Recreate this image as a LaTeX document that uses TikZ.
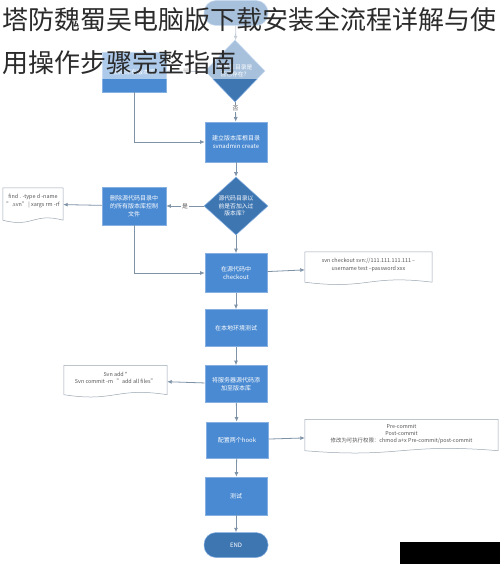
\documentclass[tikz,border=0pt]{standalone}
\usepackage{fontspec}
\setmainfont{Noto Sans CJK SC}
\usetikzlibrary{shapes.geometric,arrows.meta,calc}
\definecolor{boxblue}{HTML}{4A8AD2}
\definecolor{boxedge}{HTML}{86B0E2}
\definecolor{diablue}{HTML}{3E76B2}
\definecolor{arr}{HTML}{7F93A8}
\definecolor{docedge}{HTML}{9AA6B2}
\definecolor{doctext}{HTML}{555555}
\definecolor{titlecol}{HTML}{2B2B2B}
\tikzset{
 stepbox/.style={rectangle, fill=boxblue, draw=boxedge, line width=0.6pt, minimum width=62pt, minimum height=38pt, text=white, font=\fontsize{6}{8}\selectfont, align=center, inner sep=1pt},
 decision/.style={diamond, fill=diablue, draw=boxedge, line width=0.5pt, text=white, font=\fontsize{5.8}{7.3}\selectfont, align=center, inner sep=0pt, aspect=1.05},
 terminal/.style={rectangle, rounded corners=12pt, fill=diablue, draw=boxedge, line width=0.5pt, minimum width=64pt, minimum height=25pt, text=white, font=\fontsize{6}{7}\selectfont},
 docnode/.style={rectangle, text=doctext, font=\fontsize{5.4}{7.4}\selectfont, align=center, inner sep=0pt},
 flow/.style={draw=arr, line width=0.8pt, -{Latex[length=4.5pt,width=4pt]}},
 plainline/.style={draw=arr, line width=0.8pt},
 lbl/.style={fill=white, text=doctext, font=\fontsize{5.8}{6}\selectfont, inner sep=1pt},
 docline/.style={draw=docedge, fill=white, line width=0.5pt},
 titletext/.style={text=titlecol, font=\fontsize{26}{30}\selectfont, inner sep=0pt, anchor=base west}
}
\newcommand\drawdoc[1]{%
 \path[docline] (#1.north west) -- (#1.north east) -- (#1.south east)
  .. controls ($(#1.south east)!0.5!(#1.south west)+(0,-8)$) and ($(#1.south east)!0.5!(#1.south west)+(0,8)$) .. (#1.south west) -- cycle;}
\begin{document}
\begin{tikzpicture}[x=1pt,y=-1pt]
\useasboundingbox (0,0) rectangle (500,564);
\fill[white] (0,0) rectangle (500,564);

% nodes
\node[terminal] (start) at (236,13) {};
\node[decision, minimum width=60pt, minimum height=62pt] (d1) at (235,71) {版本库目录是\\否已存在？};
\node[stepbox, minimum width=64pt, minimum height=40pt] (b1) at (134,72) {删除原有版本库};
\node[stepbox, minimum height=40pt] (b2) at (236,142) {建立版本库根目录\\svnadmin create};
\node[decision, minimum width=64pt, minimum height=58pt] (d2) at (236,206) {源代码目录以\\前是否加入过\\版本库？};
\node[stepbox, minimum width=64pt] (b3) at (134,206) {删除源代码目录中\\的所有版本库控制\\文件};
\node[stepbox, minimum height=39pt] (b4) at (236,273) {在源代码中\\checkout};
\node[stepbox, minimum height=37pt] (b5) at (236,328) {在本地环境测试};
\node[stepbox, minimum height=37pt] (b6) at (236,384) {将服务器源代码添\\加至版本库};
\node[stepbox, minimum height=36pt] (b7) at (237,440) {配置两个hook};
\node[stepbox, minimum height=38pt] (b8) at (236,496) {测试};
\node[terminal] (end) at (236,545) {END};

% documents
\node[docnode, minimum width=60pt, minimum height=32pt] (doc1) at (33,204) {};
\drawdoc{doc1}
\node[docnode] at ($(doc1.center)+(0,-3)$) {find . -type d -name\\".svn" | xargs rm -rf};
\node[docnode, minimum width=127pt, minimum height=30pt] (doc2) at (368.5,267) {};
\drawdoc{doc2}
\node[docnode] at ($(doc2.center)+(0,-2)$) {svn checkout svn://111.111.111.111 --\\username test --password xxx};
\node[docnode, minimum width=103pt, minimum height=29pt] (doc3) at (115.5,380) {};
\drawdoc{doc3}
\node[docnode] at ($(doc3.center)+(0,-2)$) {Svn add *\\Svn commit -m \ \ "add all files"};
\node[docnode, minimum width=193pt, minimum height=31pt] (doc4) at (401.5,435) {};
\drawdoc{doc4}
\node[docnode] at ($(doc4.center)+(0,-1)$) {Pre-commit\\Post-commit\\修改为可执行权限：chmod a+x Pre-commit/post-commit};

% connectors
\draw[flow] (start) -- (d1);
\draw[flow] (d1) -- node[lbl]{是} (b1);
\draw[flow] (d1) -- node[lbl, pos=0.35]{否} (b2);
\draw[flow] (b1.south) |- (b2.west);
\draw[flow] (b2) -- (d2);
\draw[flow] (d2) -- node[lbl]{是} (b3);
\draw[flow] (b3) -- (doc1);
\draw[flow] (b3.south) |- (b4.west);
\draw[flow] (d2) -- (b4);
\draw[flow] (b4) -- (doc2);
\draw[flow] (b4) -- (b5);
\draw[flow] (b5) -- (b6);
\draw[flow] (b6) -- (doc3);
\draw[flow] (b6) -- (b7);
\draw[flow] (b7) -- (doc4);
\draw[flow] (b7) -- (b8);
\draw[flow] (b8) -- (end);

% faded top band
\fill[white, opacity=0.55] (0,0) rectangle (500,79);

% title
\node[titletext] (t1) at (2,30) {塔防魏蜀吴电脑版下载安装全流程详解与使};
\node[titletext] (t2) at (2,73) {用操作步骤完整指南};

% dark corner band
\fill[black] (400,542) rectangle (500,564);
\end{tikzpicture}
\end{document}
